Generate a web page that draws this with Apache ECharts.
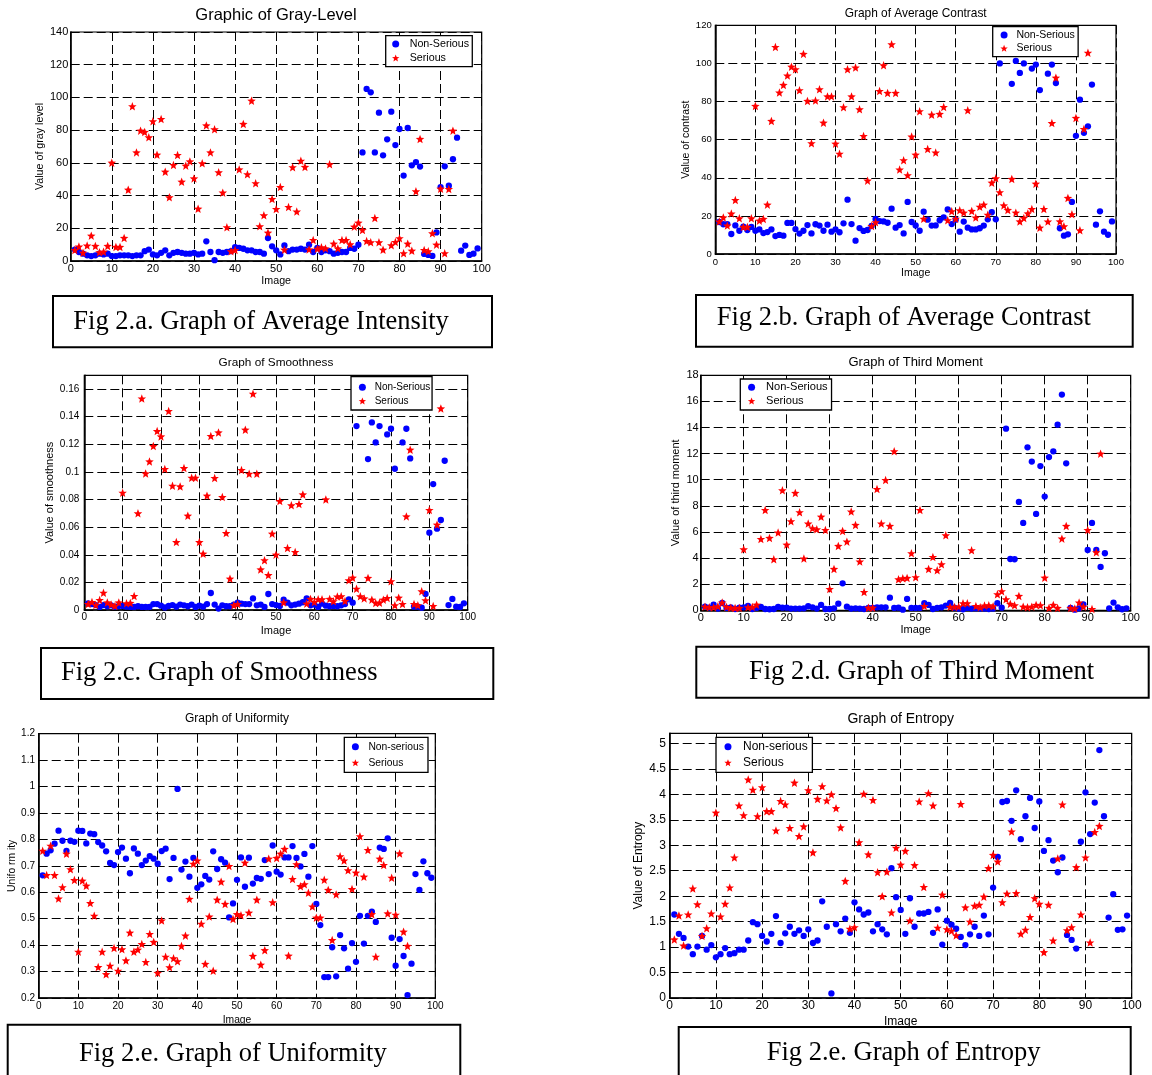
<!DOCTYPE html>
<html><head><meta charset="utf-8">
<script src="https://cdn.jsdelivr.net/npm/echarts@6/dist/echarts.min.js"></script>
<style>html,body{margin:0;padding:0;background:#fff}#c{width:1152px;height:1075px}</style>
</head><body><div id="c"></div>
<script>
// ---------- DATA (x = image number 1..N, null = hidden behind legend) ----------
const grayNonSerious = [7,5.5,4.5,3.5,3,3.5,4.5,4,4.5,3, 3,3.5,3.5,3.5,3,3.5,3.5,6,7,4, 3.5,5,6.5,3.5,5,5.5,5,4.5,4.5,5, 4,4.5,12,5.5,0.5,5.5,5,5.5,6,8.5, 8,7.5,6.5,6.5,5.5,5.5,4.5,14,9,6.5, 4,9.5,6,7,7,7.5,7,10,5.5,8, 5.5,6.5,6,4.5,5,5.5,5.5,8,7.5,10, 66.4,105.2,103.1,66.4,90.7,64.6,74.4,91.3,70.9,80.7, 52.2,81.3,58.5,60.5,57.7,4.3,3.7,3.1,17.5,45.2, 57.9,46,62.2,75.4,6.3,9.4,3.7,4.5,7.7];
const graySerious = [6.7,8.8,5.1,9.4,15.5,9.2,5.3,5.7,9.2,60.1, 8.6,8.6,14.1,43.6,94.6,66.4,79.7,78.9,75.6,85.4, 65,86.8,54.6,38.9,58.7,64.8,48.5,58.3,60.9,50.5, 32,59.7,82.9,66.4,80.5,54.2,41.8,20.6,5.9,6.7, 56,83.8,53,98,47.5,21.2,27.9,17.3,37.9,31.8, 45.2,6.9,33,57.3,30.2,61.3,57.5,7.1,12.8,7.5, 8.4,7.7,59.1,10.6,7.7,12.8,12.8,10.2,21,23.4, 19,12.2,11.4,26.3,11.4,6.9,null,9.6,11.6,13.9, 4.7,10.6,6.3,42.6,74.6,6.7,5.9,16.9,10,44.2, 4.7,44,79.7];

const contrastNonSerious = [16.8,15.6,15.7,10.5,15,12.2,14.3,12.6,14.2,12.2, 12.9,11,11.5,12.9,9.4,10,9.6,16.3,16.3,13.1, 10.7,12.2,15.2,10.8,15.6,14.9,12.2,15.4,11.7,12.9, 11.4,16.1,28.5,15.7,7,13.6,12.1,12.6,14.7,18.4, 17.3,17.1,16.4,23.8,13.8,15.2,10.8,27.3,16.8,15, 12.2,22.2,18,14.9,15,17.7,19.2,23.4,15.7,18, 11.7,17,13.8,12.9,12.9,13.5,14.9,18.2,21.9,18.2, 100,null,null,89.3,101.3,95,100,null,97.3,99.4, 86,null,94.6,99.4,89.7,13.5,9.6,10.3,27.3,62, 81,63.6,67,88.9,15.4,22.4,11.7,10.1,17.1];
const contrastSerious = [17,19.2,14.9,21.2,28.3,18.7,14.2,14.2,18.7,77.7, 17.5,18.4,25.9,69.8,108.6,84.7,88.7,93.6,98.3,96.9, 85.9,105,80.3,58.1,80.5,86.4,68.9,82.7,82.7,57.9, 52.6,77,96.9,82.7,97.8,75.9,61.9,38.5,14.7,16.6, 85.5,99,84.5,110,84.5,44.3,49.2,41.3,61.6,52.1, 74.9,18.5,55.1,73.1,53.2,73.5,77.1,17.7,22.4,18.5, 22.9,21.7,75.4,22.6,19.1,24.8,25.9,20.6,37.4,39.7, 32.4,25.5,23.1,39.4,21.7,17.1,18.9,21.3,23.6,36.9, 13.8,23.6,17,68.7,92.5,17.1,14.5,29.4,20.8,71.4, 12.4,65.6,105.6];

const smoothNonSerious = [0.0048,0.0043,0.0036,0.0022,0.0036,0.0027,0.0034,0.0022,0.0029,0.0029, 0.0024,0.0022,0.0022,0.0027,0.0022,0.0022,0.0022,0.0043,0.0043,0.0031, 0.0019,0.0029,0.0036,0.0024,0.0039,0.0034,0.0027,0.0039,0.0022,0.0031, 0.0024,0.0043,0.0123,0.0039,0.001,0.0034,0.0027,0.0027,0.0039,0.0053, 0.0046,0.0043,0.0043,0.0084,0.0034,0.0039,0.0022,0.0116,0.0043,0.0036, 0.0029,0.0075,0.0053,0.0034,0.0039,0.0046,0.0056,0.0084,0.0034,0.0039, 0.0022,0.0046,0.0031,0.0027,0.0029,0.0027,0.0034,0.0043,0.0077,0.0053, 0.1332,null,null,0.1093,0.1359,0.1214,0.1332,null,0.1272,0.1313, 0.1023,null,0.1214,0.1313,0.1098,0.0024,0.0024,0.0017,0.0116,0.056, 0.0912,0.0589,0.0652,0.1081,0.0036,0.008,0.0024,0.0022,0.0048];
const smoothSerious = [0.0043,0.0058,0.0036,0.0072,0.0125,0.0055,0.0039,0.0029,0.0055,0.0849, 0.0048,0.0051,0.0101,0.07,0.1532,0.0989,0.1076,0.1187,0.1296,0.1257, 0.1021,0.1441,0.09,0.0492,0.0895,0.1028,0.0683,0.0958,0.0958,0.0492, 0.0408,0.0828,0.126,0.0956,0.1286,0.0818,0.0557,0.0227,0.0034,0.0043, 0.1014,0.1306,0.0987,0.1566,0.0987,0.0294,0.036,0.0253,0.0553,0.0401, 0.0789,0.0055,0.0449,0.0758,0.042,0.0767,0.0837,0.0046,0.008,0.0058, 0.0077,0.0077,0.0801,0.008,0.0063,0.0097,0.0099,0.0065,0.0215,0.0234, 0.0154,0.0099,0.0084,0.0232,0.0075,0.0051,0.0053,0.0075,0.0087,0.0208, 0.0034,0.0089,0.0043,0.0678,0.1161,0.0043,0.0034,0.0135,0.007,0.0724, 0.0029,0.0618,0.146];

const thirdNonSerious = [0.28,0.2,0.43,0.13,0.56,0.18,0.23,0.1,0.2,0.23, 0.33,0.1,0.18,0.26,0.1,0.08,0.1,0.26,0.2,0.2, 0.13,0.13,0.13,0.15,0.31,0.23,0.13,0.41,0.1,0.1, 0.15,0.51,2.07,0.28,0.13,0.15,0.13,0.1,0.18,0.18, 0.23,0.23,0.23,0.97,0.18,0.2,0.05,0.87,0.18,0.18, 0.18,0.54,0.41,0.1,0.18,0.23,0.36,0.56,0.2,0.13, 0.08,0.18,0.13,0.15,0.13,0.13,0.1,0.13,0.54,0.2, 13.91,3.93,3.91,8.3,6.69,12.48,11.39,7.38,11.05,8.71, 11.74,12.18,14.22,16.52,11.26,0.18,0.05,0.15,0.46,4.62, 6.69,4.62,3.32,4.37,0.15,0.59,0.23,0.08,0.15];
const thirdSerious = [0.28,0.23,0.23,0.31,0.59,0.26,0.2,0.18,0.18,4.67, 0.23,0.26,0.43,5.46,7.68,5.54,3.91,5.95,9.19,5.03, 6.82,8.99,7.51,3.96,6.64,6.28,6.2,7.17,6.15,1.63, 3.17,4.93,6.08,5.26,7.56,6.54,3.73,1.4,0.2,0.2, 9.29,6.64,9.98,6.46,12.18,2.37,2.45,2.48,4.37,2.53, 7.68,0.33,3.17,4.08,3.06,3.52,5.74,0.26,0.26,0.28, 0.54,0.54,4.6,0.33,0.23,0.36,0.38,0.31,1.23,1.46, 0.84,0.49,0.38,1.1,0.28,0.23,0.28,0.41,0.38,2.5, 0.18,0.41,0.18,5.49,6.46,0.18,0.13,0.59,0.28,6.15, 0.1,4.44,12];

const uniformNonSerious = [0.664,0.746,0.759,0.784,0.833,0.795,0.757,0.795,0.791,0.833, 0.832,0.785,0.822,0.82,0.79,0.777,0.755,0.711,0.703,0.752, 0.769,0.727,0.672,0.766,0.746,0.703,0.72,0.737,0.727,0.708, 0.756,0.765,0.65,0.73,0.991,0.686,0.716,0.659,0.73,0.617, 0.63,0.662,0.648,0.755,0.688,0.725,0.712,0.505,0.558,0.647, 0.732,0.621,0.731,0.633,0.654,0.651,0.722,0.669,0.777,0.678, 0.667,0.732,0.732,0.775,0.73,0.698,0.745,0.659,0.775,0.556, 0.476,0.279,0.279,0.392,0.282,0.438,0.388,0.311,0.408,0.337, 0.511,0.406,0.511,0.527,0.488,0.769,0.764,0.804,0.428,0.322, 0.423,0.359,0.211,0.33,0.669,0.609,0.717,0.672,0.655];
const uniformSerious = [0.757,0.665,0.776,0.665,0.576,0.619,0.746,0.687,0.646,0.375, 0.644,0.625,0.559,0.511,0.317,0.375,0.29,0.322,0.389,0.303, 0.384,0.342,0.447,0.375,0.383,0.404,0.336,0.442,0.412,0.295, 0.493,0.356,0.316,0.35,0.339,0.397,0.436,0.575,0.708,0.72, 0.481,0.329,0.508,0.303,0.572,0.64,0.556,0.699,0.499,0.517, 0.513,0.712,0.523,0.359,0.572,0.326,0.381,0.727,0.562,0.73, 0.746,0.764,0.36,0.65,0.706,0.623,0.63,0.598,0.546,0.504, 0.504,0.647,0.609,0.419,0.592,0.736,0.72,0.683,0.612,0.674, 0.812,0.659,0.76,0.517,0.356,0.727,0.703,0.52,0.655,0.515, 0.747,0.451,0.397];

const entropyNonSerious = [1.64,1.26,1.18,1.01,0.86,1.01,1.22,0.95,1.04,0.8, 0.86,0.98,0.86,0.88,0.95,0.95,1.13,1.49,1.45,1.22, 1.11,1.26,1.61,1.08,1.27,1.4,1.26,1.33,1.22,1.35, 1.08,1.13,1.9,1.4,0.09,1.45,1.31,1.56,1.28,1.88, 1.74,1.64,1.68,1.31,1.45,1.35,1.25,2.55,1.98,1.73, 1.26,1.96,1.4,1.66,1.66,1.69,1.28,1.74,1.05,1.52, 1.44,1.36,1.2,1.04,1.25,1.4,1.22,1.62,1.25,2.17, 2.77,3.85,3.87,3.48,4.08,3.12,3.57,3.93,3.34,3.86, 2.89,3.1,2.7,2.47,2.76,1.24,1.14,0.97,3.07,4.04, 3.22,3.84,4.87,3.57,1.58,2.04,1.34,1.35,1.62];
const entropySerious = [1.15,1.62,1.03,1.64,2.15,1.84,1.22,1.37,1.66,3.64, 1.6,1.85,2.17,2.76,3.78,3.59,4.29,4.09,3.57,4.14, 3.67,3.67,3.29,3.87,3.8,3.34,4.23,3.18,3.37,4.08, 2.86,3.91,4.16,3.88,4,3.73,3.35,2.3,1.36,1.39, 3.06,4.01,2.82,3.89,2.47,2,2.48,1.68,2.95,2.62, 2.89,1.52,2.61,3.86,2.18,4.02,3.78,1.38,2.03,1.35, 1.32,1.23,3.81,1.78,1.5,1.81,1.83,1.99,2.55,2.81, 2.68,1.88,2.05,3.27,2.06,1.26,1.34,1.59,1.96,1.85, 0.9,1.83,1.13,2.74,3.8,1.33,1.39,2.57,1.64,2.76, 1.09,3.26,3.38];

const titles = ['Graphic of Gray-Level','Graph of Average Contrast','Graph of Smoothness','Graph of Third Moment','Graph of Uniformity','Graph of Entropy'];
const yNames = ['Value of gray level','Value of contrast','Value of smoothness','Value of third moment','Unifo rm ity','Value of Entropy'];
const captions = ['Fig 2.a. Graph of Average Intensity','Fig 2.b. Graph of Average Contrast','Fig 2.c. Graph of Smoothness','Fig 2.d. Graph of Third Moment','Fig 2.e. Graph of Uniformity','Fig 2.e. Graph of Entropy'];
const legendNames = [['Non-Serious','Serious'],['Non-Serious','Serious'],['Non-Serious','Serious'],['Non-Serious','Serious'],['Non-serious','Serious'],['Non-serious','Serious']];
const yScales = [[0,140,20],[0,120,20],[0,0.17,0.02],[0,18,2],[0.2,1.2,0.1],[0,5.2,0.5]];
const xScale = [0,100,10];
const seriesData = [[grayNonSerious,graySerious],[contrastNonSerious,contrastSerious],[smoothNonSerious,smoothSerious],[thirdNonSerious,thirdSerious],[uniformNonSerious,uniformSerious],[entropyNonSerious,entropySerious]];

// ---------- LAYOUT / STYLE ----------
const SANS = '"Liberation Sans", Arial, sans-serif';
const SERIF = '"Liberation Serif", "Times New Roman", serif';
const STAR = 'path://M0,-10L2.6,-3.3L9.511,-3.09L4.1,1.3L5.878,8.09L0,4.3L-5.878,8.09L-4.1,1.3L-9.511,-3.09L-2.6,-3.3Z';
const L = [
 {g:[70.7,32,411,229], tx:276, ty:15.7, ts:16.5, tick:11, nm:10.7, xGap:14.5, yGap:23.7, xm:2, ym:2.4, hideMax:false,
  lg:{l:385.7,t:35.7,pad:[1.3,3.2,1.7,6.3],iw:18,lh:14,fs:10.7}, cap:{r:[53,296,439,51.3], tx:73.3, ty:322}},
 {g:[715.3,25.3,400.7,228.7], tx:915.7, ty:13.3, ts:11.9, tick:9.5, nm:10.5, xGap:12.7, yGap:24, xm:3, ym:3.6, hideMax:false,
  lg:{l:992.7,t:26.7,pad:[1.65,3.4,1.75,7.7],iw:14.6,lh:13.3,fs:10.5}, cap:{r:[696,295,436.7,51.7], tx:716.7, ty:318}},
 {g:[84.3,375.3,383.4,234.7], tx:276, ty:362.7, ts:11.8, tick:10, nm:11, xGap:15.7, yGap:24.7, xm:2.7, ym:5, hideMax:true,
  lg:{l:351,t:376.7,pad:[3.75,1.8,2.15,7.7],iw:14.6,lh:13.7,fs:10}, cap:{r:[41,648,452.3,51], tx:61, ty:673.2}},
 {g:[700.7,375.3,430,235], tx:915.7, ty:362.7, ts:13, tick:11, nm:11, xGap:14.5, yGap:19.2, xm:2, ym:2, hideMax:false,
  lg:{l:740.3,t:379,pad:[1.45,3.9,2.15,7.6],iw:18.8,lh:13.7,fs:11.1}, cap:{r:[696.3,646.7,452.4,51], tx:749, ty:672.5}},
 {g:[38.7,733.7,396.6,264.3], tx:237, ty:719, ts:12, tick:10, nm:10.3, xGap:17, yGap:19.7, xm:3.7, ym:3.7, hideMax:false,
  lg:{l:344.3,t:737.3,pad:[1.4,4.1,1.6,7.4],iw:16,lh:16,fs:10.3}, cap:{r:[7.7,1024.7,452.6,70], tx:79, ty:1053.8}},
 {g:[669.7,733.3,462,264.7], tx:900.7, ty:719, ts:14, tick:12, nm:12, xGap:17.7, yGap:24.7, xm:2, ym:3.7, hideMax:true,
  lg:{l:716,t:737.3,pad:[1.4,4.7,1.6,8.3],iw:20,lh:16,fs:12}, cap:{r:[678.7,1027,452,70], tx:766.7, ty:1053}}
];

function pts(arr){ const out=[]; arr.forEach((v,i)=>{ if(v!==null) out.push([i+1,v]); }); return out; }

const gridLine = {show:true, lineStyle:{color:'#000', width:1, type:[9,4]}};
const option = {
  animation:false,
  backgroundColor:'#fff',
  title: L.map((p,i)=>({text:titles[i], left:p.tx, top:p.ty, textAlign:'center', textVerticalAlign:'middle', padding:0,
    textStyle:{fontFamily:SANS, fontSize:p.ts, fontWeight:'normal', color:'#000'}})),
  grid: L.map(p=>({left:p.g[0], top:p.g[1], width:p.g[2], height:p.g[3], show:true, borderColor:'#000', borderWidth:1.2, backgroundColor:'#fff', containLabel:false})),
  xAxis: L.map((p,i)=>({type:'value', gridIndex:i, position:'bottom', min:xScale[0], max:xScale[1], interval:xScale[2],
    name:'Image', nameLocation:'middle', nameGap:p.xGap, nameTextStyle:{fontFamily:SANS, fontSize:p.nm, color:'#000'},
    axisLine:{show:true, onZero:false, lineStyle:{color:'#000', width:1.5}},
    axisTick:{show:true, inside:true, length:4, lineStyle:{color:'#000'}},
    axisLabel:{fontFamily:SANS, fontSize:p.tick, color:'#000', margin:p.xm},
    splitLine:gridLine})),
  yAxis: L.map((p,i)=>({type:'value', gridIndex:i, position:'left', min:yScales[i][0], max:yScales[i][1], interval:yScales[i][2],
    name:yNames[i], nameLocation:'middle', nameGap:p.yGap, nameTextStyle:{fontFamily:SANS, fontSize:p.nm, color:'#000'},
    axisLine:{show:true, onZero:false, lineStyle:{color:'#000', width:1.5}},
    axisTick:{show:true, inside:true, length:4, lineStyle:{color:'#000'}},
    axisLabel:{fontFamily:SANS, fontSize:p.tick, color:'#000', margin:p.ym, showMaxLabel:!p.hideMax},
    splitLine:gridLine})),
  legend: L.map((p,i)=>({orient:'vertical', left:p.lg.l, top:p.lg.t, padding:p.lg.pad, itemWidth:p.lg.iw, itemHeight:7, itemGap:0,
    borderColor:'#000', borderWidth:1.3, backgroundColor:'#fff', selectedMode:false, z:10,
    itemStyle:{borderWidth:0},
    textStyle:{fontFamily:SANS, fontSize:p.lg.fs, lineHeight:p.lg.lh, color:'#000'},
    data:[{name:legendNames[i][0], icon:'circle', itemStyle:{color:'#0000ff'}},{name:legendNames[i][1], icon:STAR, itemStyle:{color:'#ff0000'}}]})),
  series: L.flatMap((p,i)=>[
    {type:'scatter', name:legendNames[i][0], xAxisIndex:i, yAxisIndex:i, data:pts(seriesData[i][0]), symbol:'circle', symbolSize:6.3,
     itemStyle:{color:'#0000ff', opacity:1}, silent:true, z:3},
    {type:'scatter', name:legendNames[i][1], xAxisIndex:i, yAxisIndex:i, data:pts(seriesData[i][1]), symbol:STAR, symbolSize:8.5,
     itemStyle:{color:'#ff0000', opacity:1}, silent:true, z:4}
  ]),
  graphic: {elements: L.flatMap((p,i)=>[
    {type:'rect', z:100, shape:{x:p.cap.r[0], y:p.cap.r[1], width:p.cap.r[2], height:p.cap.r[3]}, style:{fill:'#fff', stroke:'#000', lineWidth:2}, silent:true},
    {type:'text', z:101, x:p.cap.tx, y:p.cap.ty, silent:true,
     style:{text:captions[i], font:'26.5px '+SERIF, fill:'#000', textAlign:'left', textVerticalAlign:'middle', align:'left', verticalAlign:'middle'}}
  ])}
};
const chart = echarts.init(document.getElementById('c'), null, {renderer:'canvas'});
chart.setOption(option);
</script>
</body></html>
